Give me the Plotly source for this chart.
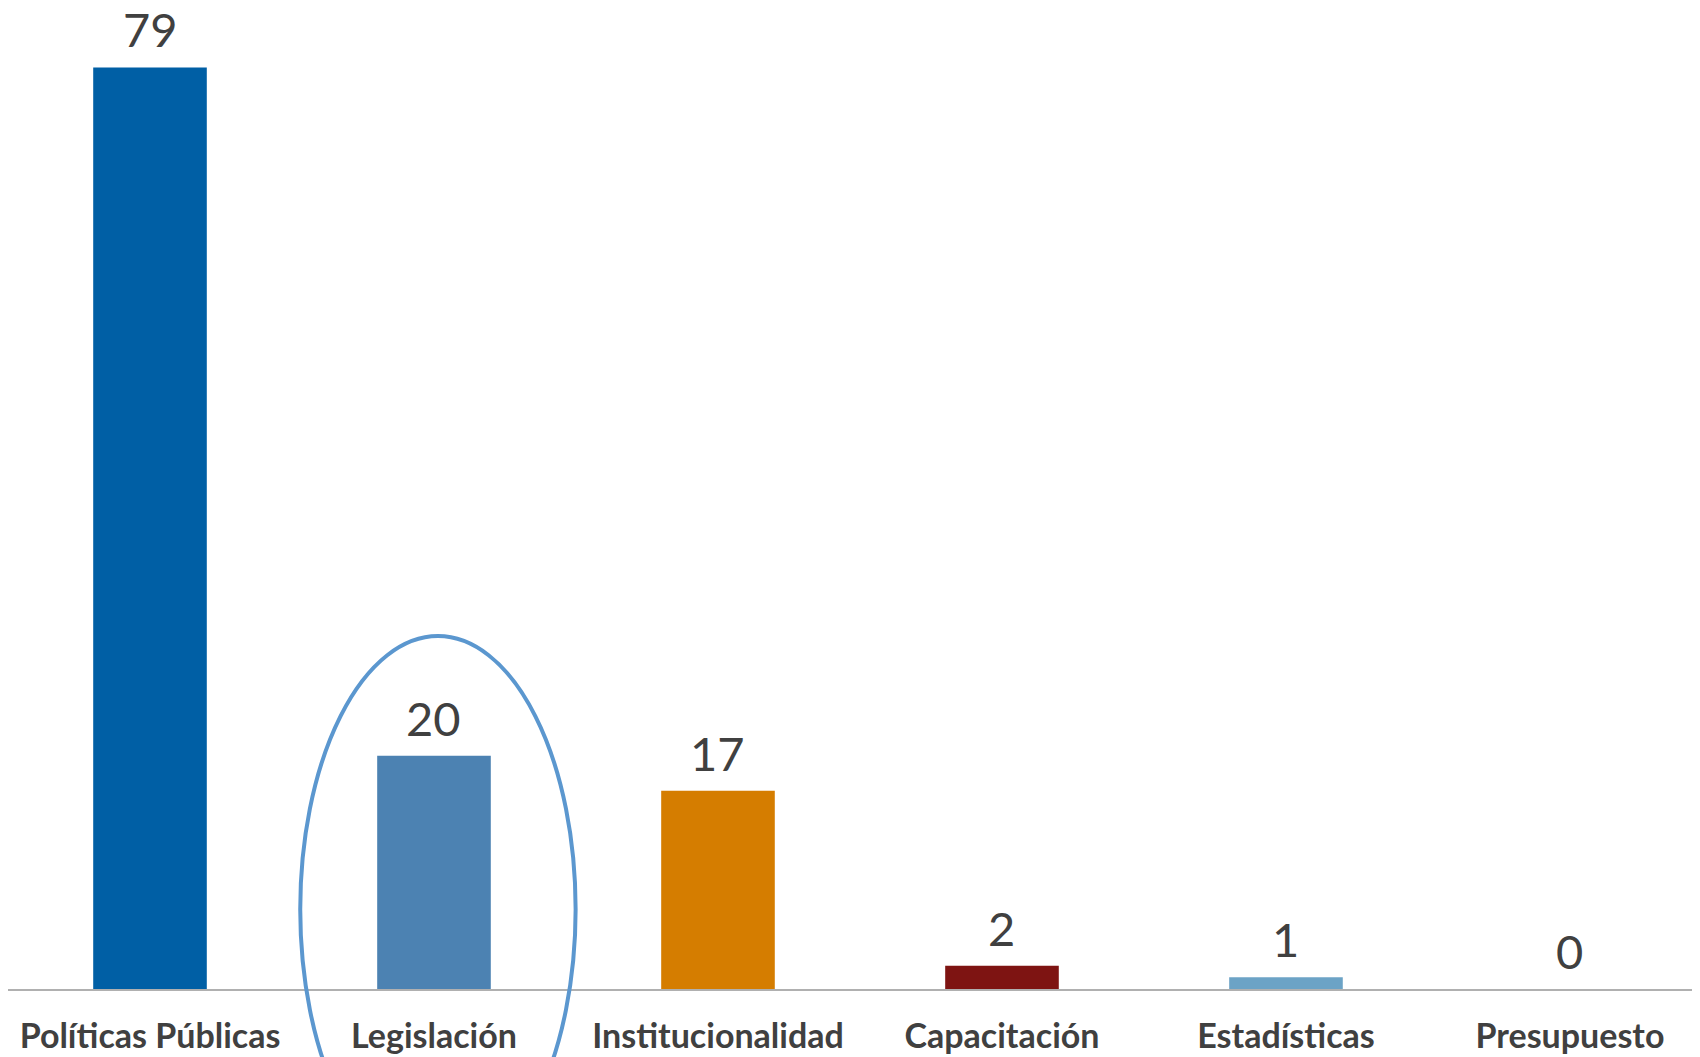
import plotly.graph_objects as go

categories = ["Políticas Públicas", "Legislación", "Institucionalidad", "Capacitación", "Estadísticas", "Presupuesto"]
values = [79, 20, 17, 2, 1, 0]
colors = ["#005FA5", "#4C82B2", "#D57D00", "#7E1412", "#6CA3C6", "#A5A5A5"]

fig = go.Figure()
fig.add_trace(go.Bar(
    x=categories, y=values,
    marker=dict(color=colors, line=dict(width=0)),
    cliponaxis=False,
))

for c, v in zip(categories, values):
    fig.add_annotation(x=c, y=v, text=str(v), showarrow=False,
                       xref="x", yref="y", yanchor="bottom", yshift=8,
                       font=dict(family="Lato", size=47, color="#404040"))

fig.add_shape(type="circle", xref="paper", yref="paper",
              x0=0.1719, x1=0.3339, y0=-0.1973, y1=0.3598,
              line=dict(color="#5B97CF", width=4))

fig.update_layout(
    width=1700, height=1057,
    margin=dict(l=0, r=0, t=0, b=76),
    paper_bgcolor="white", plot_bgcolor="white",
    bargap=0.6, showlegend=False,
    xaxis=dict(range=[-0.5, 5.486], showline=True, linecolor="#B0B0B0", linewidth=2,
               ticks="", showgrid=False, automargin=False, ticklabelstandoff=16,
               tickfont=dict(family="Lato", size=34, color="#404040", weight="bold")),
    yaxis=dict(range=[0, 84.1], visible=False, showgrid=False, zeroline=False),
)

fig.write_html("out.html")
